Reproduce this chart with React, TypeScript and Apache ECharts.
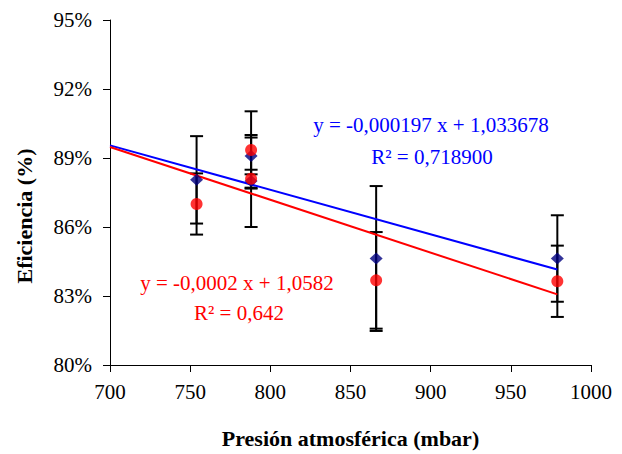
import React, { useEffect, useRef } from "react";
import * as echarts from "echarts";

// Pressure (mbar) of each measurement
const pressure = [754, 788, 788, 866, 979];
// Blue series: efficiency (%) and error bar half-length (%)
const blueEff = [88.05, 89.09, 88.0, 84.63, 84.63];
const blueErr = [1.9, 0.8, 2.0, 3.15, 1.88];
// Red series: efficiency (%) and error bar half-length (%)
const redEff = [87.0, 89.35, 88.1, 83.68, 83.64];
const redErr = [1.33, 1.68, 0.39, 2.1, 1.55];
// Trend line end points [pressure, efficiency %]
const blueTrend = [
  [700, 89.55],
  [979, 84.15],
];
const redTrend = [
  [700, 89.48],
  [979, 83.07],
];
// Axis settings
const xTicks = { min: 700, max: 1000, interval: 50 };
const yBase = 80; // efficiency axis starts at 80 %
const yTicks = { min: 80, max: 95, interval: 3 };

const blueEqText = "y = -0,000197 x + 1,033678";
const blueR2Text = "R\u00B2 = 0,718900";
const redEqText = "y = -0,0002 x + 1,0582";
const redR2Text = "R\u00B2 = 0,642";

const FONT = "'Liberation Serif', 'Times New Roman', serif";

function errData(eff: number[], err: number[]) {
  return pressure.map((p, i) => [p, eff[i] - err[i] - yBase, eff[i] + err[i] - yBase]);
}

function ptData(eff: number[]) {
  return pressure.map((p, i) => [p, eff[i] - yBase]);
}

function trendData(t: number[][]) {
  return t.map((d) => [d[0], d[1] - yBase]);
}

const renderErr = (params: any, api: any) => {
  const x = api.value(0);
  const lo = api.coord([x, api.value(1)]);
  const hi = api.coord([x, api.value(2)]);
  const hw = 6.5;
  const st = { stroke: "#000", lineWidth: 2 };
  return {
    type: "group",
    children: [
      { type: "line", shape: { x1: lo[0], y1: lo[1], x2: hi[0], y2: hi[1] }, style: st },
      { type: "line", shape: { x1: lo[0] - hw, y1: lo[1], x2: lo[0] + hw, y2: lo[1] }, style: st },
      { type: "line", shape: { x1: hi[0] - hw, y1: hi[1], x2: hi[0] + hw, y2: hi[1] }, style: st },
    ],
  };
};

export default function App() {
  const ref = useRef<HTMLDivElement>(null);
  useEffect(() => {
    if (!ref.current) return;
    const chart = echarts.init(ref.current, null, { renderer: "svg" });
    chart.setOption({
      animation: false,
      backgroundColor: "#fff",
      grid: { left: 110, right: 31, top: 20, bottom: 89, containLabel: false },
      xAxis: {
        type: "value",
        min: xTicks.min,
        max: xTicks.max,
        interval: xTicks.interval,
        name: "Presión atmosférica (mbar)",
        nameLocation: "middle",
        nameGap: 62,
        nameTextStyle: { fontFamily: FONT, fontSize: 22, fontWeight: "bold", color: "#000" },
        axisLine: { show: true, lineStyle: { color: "#000", width: 1 } },
        axisTick: { show: true, inside: false, length: 7, lineStyle: { color: "#000" } },
        splitLine: { show: false },
        axisLabel: {
          fontFamily: FONT,
          fontSize: 21,
          color: "#000",
          margin: 16,
          formatter: (v: number) => String(v),
        },
      },
      yAxis: {
        type: "value",
        min: yTicks.min - yBase,
        max: yTicks.max - yBase,
        interval: yTicks.interval,
        axisLine: { show: true, lineStyle: { color: "#000", width: 1 } },
        axisTick: { show: true, inside: false, length: 7, lineStyle: { color: "#000" } },
        splitLine: { show: false },
        axisLabel: {
          fontFamily: FONT,
          fontSize: 21,
          color: "#000",
          margin: 18,
          formatter: (v: number) => `${Math.round(v + yBase)}%`,
        },
      },
      graphic: [
        {
          type: "text",
          x: 24,
          y: 216,
          rotation: Math.PI / 2,
          style: {
            text: "Eficiencia (%)",
            font: `bold 22px ${FONT}`,
            fill: "#000",
            align: "center",
            verticalAlign: "middle",
          },
        },
        {
          type: "text",
          x: 431,
          y: 125,
          style: { text: blueEqText, font: `21px ${FONT}`, fill: "#0000ff", align: "center", verticalAlign: "middle" },
        },
        {
          type: "text",
          x: 432,
          y: 157,
          style: { text: blueR2Text, font: `21px ${FONT}`, fill: "#0000ff", align: "center", verticalAlign: "middle" },
        },
        {
          type: "text",
          x: 237,
          y: 283,
          style: { text: redEqText, font: `21px ${FONT}`, fill: "#ff0000", align: "center", verticalAlign: "middle" },
        },
        {
          type: "text",
          x: 239,
          y: 313,
          style: { text: redR2Text, font: `21px ${FONT}`, fill: "#ff0000", align: "center", verticalAlign: "middle" },
        },
      ],
      series: [
        {
          type: "custom",
          name: "errBlue",
          renderItem: renderErr,
          encode: { x: 0, y: [1, 2] },
          data: errData(blueEff, blueErr),
          z: 1,
        },
        {
          type: "custom",
          name: "errRed",
          renderItem: renderErr,
          encode: { x: 0, y: [1, 2] },
          data: errData(redEff, redErr),
          z: 1,
        },
        {
          type: "line",
          name: "trendBlue",
          data: trendData(blueTrend),
          symbol: "none",
          lineStyle: { color: "#0000ff", width: 2 },
          z: 2,
        },
        {
          type: "line",
          name: "trendRed",
          data: trendData(redTrend),
          symbol: "none",
          lineStyle: { color: "#ff0000", width: 2 },
          z: 2,
        },
        {
          type: "scatter",
          name: "blue",
          data: ptData(blueEff),
          symbol: "diamond",
          symbolSize: [13, 12],
          itemStyle: { color: "#000080" },
          z: 3,
        },
        {
          type: "scatter",
          name: "red",
          data: ptData(redEff),
          symbol: "circle",
          symbolSize: 12,
          itemStyle: { color: "#ff0000" },
          z: 3,
        },
      ],
    });
    return () => chart.dispose();
  }, []);
  return (
    <div
      ref={ref}
      style={{ position: "absolute", left: 0, top: 0, width: 622, height: 454 }}
    />
  );
}
